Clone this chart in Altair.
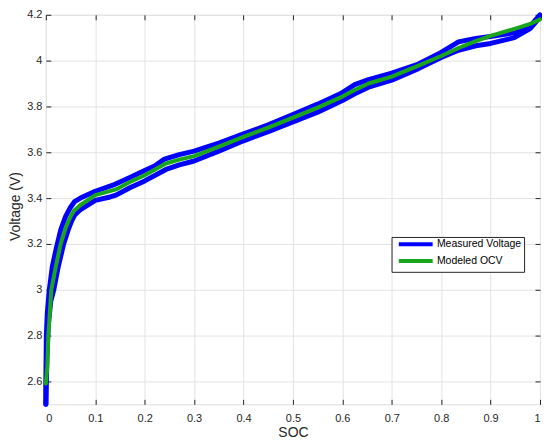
import altair as alt
import pandas as pd

# Measured voltage, branch A (upper at low SOC)
soc_a = [0.000, 0.000, 0.001, 0.003, 0.007, 0.013, 0.021, 0.030, 0.040, 0.050, 0.058,
         0.070, 0.100, 0.140, 0.170, 0.200, 0.220, 0.240, 0.270, 0.300, 0.350, 0.400,
         0.450, 0.500, 0.550, 0.600, 0.625, 0.653, 0.700, 0.754, 0.800, 0.835, 0.870,
         0.900, 0.950, 0.980, 1.000]
v_a = [2.50, 2.60, 2.80, 2.90, 3.00, 3.10, 3.18, 3.26, 3.32, 3.36, 3.385,
       3.40, 3.43, 3.46, 3.49, 3.52, 3.54, 3.57, 3.59, 3.605, 3.64, 3.68,
       3.72, 3.765, 3.81, 3.86, 3.895, 3.917, 3.945, 3.985, 4.036, 4.082, 4.097,
       4.105, 4.122, 4.15, 4.20]

# Measured voltage, branch B (lower at low SOC)
soc_b = [0.000, 0.002, 0.005, 0.010, 0.016, 0.025, 0.036, 0.045, 0.052, 0.058, 0.070,
         0.100, 0.130, 0.142, 0.170, 0.200, 0.243, 0.270, 0.300, 0.350, 0.400, 0.450,
         0.500, 0.550, 0.600, 0.625, 0.653, 0.700, 0.754, 0.800, 0.835, 0.870, 0.900,
         0.948, 0.980, 1.000]
v_b = [2.50, 2.70, 2.85, 2.95, 3.00, 3.10, 3.20, 3.26, 3.30, 3.325, 3.35,
       3.39, 3.405, 3.413, 3.445, 3.475, 3.525, 3.545, 3.562, 3.605, 3.65, 3.69,
       3.732, 3.775, 3.826, 3.855, 3.884, 3.915, 3.965, 4.014, 4.045, 4.065, 4.075,
       4.10, 4.14, 4.19]

# Modeled OCV
soc_ocv = [0.000, 0.003, 0.005, 0.011, 0.020, 0.030, 0.040, 0.050, 0.057, 0.070, 0.100,
           0.142, 0.170, 0.200, 0.243, 0.270, 0.300, 0.350, 0.400, 0.450, 0.500, 0.550,
           0.600, 0.625, 0.653, 0.700, 0.754, 0.800, 0.835, 0.870, 0.900, 0.950, 0.980,
           1.000]
v_ocv = [2.59, 2.667, 2.80, 3.00, 3.10, 3.20, 3.27, 3.32, 3.345, 3.37, 3.413,
         3.438, 3.47, 3.50, 3.551, 3.568, 3.583, 3.625, 3.667, 3.708, 3.751, 3.795,
         3.843, 3.872, 3.90, 3.93, 3.978, 4.02, 4.055, 4.085, 4.108, 4.14, 4.16,
         4.18]

series_names = ["Measured Voltage", "Modeled OCV"]
series_colors = ["#0000ff", "#1aa61a"]
x_ticks = [0, 0.1, 0.2, 0.3, 0.4, 0.5, 0.6, 0.7, 0.8, 0.9, 1]
y_ticks = [2.6, 2.8, 3.0, 3.2, 3.4, 3.6, 3.8, 4.0, 4.2]

rows = []
for i, (s, v) in enumerate(zip(soc_a, v_a)):
    rows.append({"soc": s, "v": v, "series": series_names[0], "branch": "A", "ord": i})
for i, (s, v) in enumerate(zip(soc_b, v_b)):
    rows.append({"soc": s, "v": v, "series": series_names[0], "branch": "B", "ord": i})
meas = pd.DataFrame(rows)
ocv = pd.DataFrame({"soc": soc_ocv, "v": v_ocv, "series": series_names[1],
                    "ord": list(range(len(soc_ocv)))})

W, H = 496, 391
FONT = "Liberation Sans"
INK = "#262626"

xs = alt.Scale(domain=[0, 1], nice=False, zero=False)
ys = alt.Scale(domain=[2.5, 4.2], nice=False, zero=False)
cs = alt.Scale(domain=series_names, range=series_colors)

legend = alt.Legend(
    title=None, orient="none", legendX=347, legendY=223,
    symbolType="M0,0H11.33", symbolSize=36, symbolStrokeWidth=4,
    labelFont=FONT, labelFontSize=10.5, labelColor="black", labelOffset=33,
    strokeColor=INK, fillColor="white", padding=2, rowPadding=0,
)

x_main = alt.Axis(orient="bottom", values=x_ticks, format="~g", grid=True,
                  gridColor="#e3e3e3", gridWidth=1, domain=False, offset=-5,
                  tickSize=5, tickColor=INK, labelPadding=8, labelFont=FONT,
                  labelFontSize=11, labelColor=INK, title="SOC", titleFont=FONT,
                  titleFontSize=14, titleFontWeight="normal", titleColor=INK,
                  titlePadding=2)
y_main = alt.Axis(orient="left", values=y_ticks, format="~g", grid=True,
                  gridColor="#e3e3e3", gridWidth=1, domain=False, offset=-5,
                  tickSize=5, tickColor=INK, labelPadding=4, labelFont=FONT,
                  labelFontSize=11, labelColor=INK, title="Voltage (V)",
                  titleFont=FONT, titleFontSize=14, titleFontWeight="normal",
                  titleColor=INK, titleX=-28, titleY=192)
x_top = alt.Axis(orient="top", values=x_ticks, grid=False, domain=False, offset=-5,
                 tickSize=5, tickColor=INK, labels=False, title=None)
y_right = alt.Axis(orient="right", values=y_ticks, grid=False, domain=False, offset=-5,
                   tickSize=5, tickColor=INK, labels=False, title=None)

blue = alt.Chart(meas).mark_line(strokeWidth=5, strokeCap="round", strokeJoin="round").encode(
    x=alt.X("soc:Q", scale=xs, axis=x_main),
    y=alt.Y("v:Q", scale=ys, axis=y_main),
    color=alt.Color("series:N", scale=cs, legend=legend),
    detail="branch:N",
    order="ord:Q",
)
green = alt.Chart(ocv).mark_line(strokeWidth=4, strokeCap="round", strokeJoin="round").encode(
    x=alt.X("soc:Q", scale=xs, axis=x_top),
    y=alt.Y("v:Q", scale=ys, axis=y_right),
    color=alt.Color("series:N", scale=cs, legend=legend),
    order="ord:Q",
)

chart = alt.layer(blue, green).properties(
    width=W, height=H,
    autosize=alt.AutoSizeParams(type="none"),
    padding={"left": 38, "top": 6, "right": 2, "bottom": 38},
).configure_view(stroke=INK, strokeWidth=1).configure(background="white")

chart.save("out.html", embed_options={"renderer": "svg", "actions": False})
